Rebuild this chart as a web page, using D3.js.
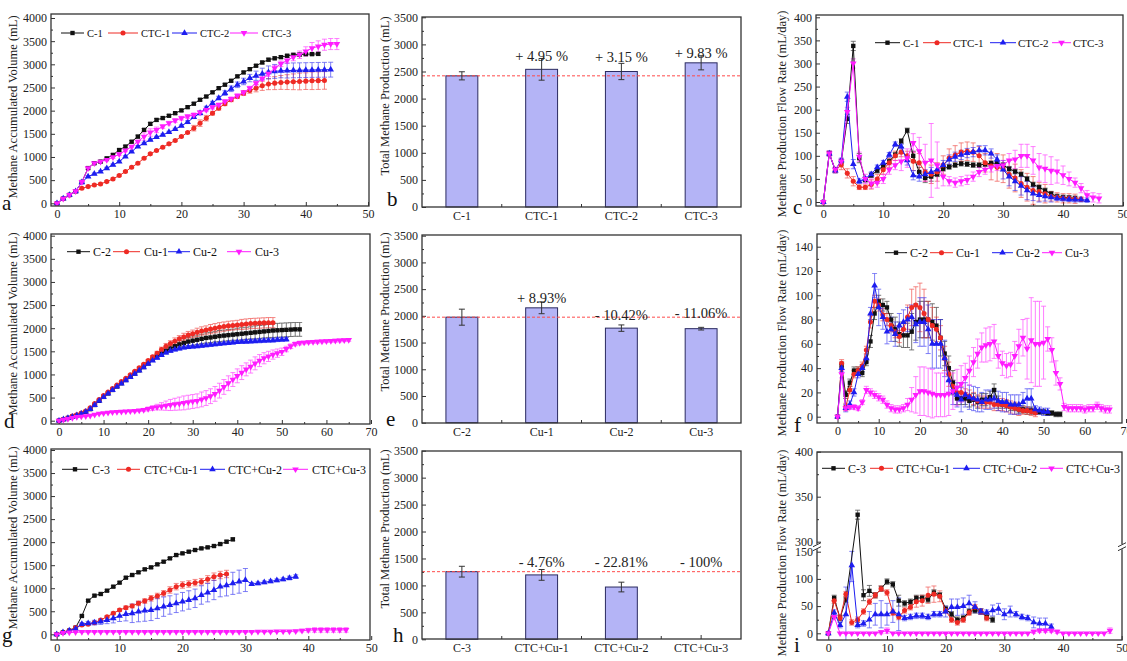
<!DOCTYPE html>
<html>
<head>
<meta charset="utf-8">
<script src="https://cdn.jsdelivr.net/npm/d3@7"></script>
<style>body{margin:0;background:#fff}</style>
</head>
<body>
<script>
// ---------- data: panel a (accumulated volume, CTC series) ----------
var aC1 = [0,100,180,260,460,760,865,900,970,1045,1150,1225,1330,1440,1585,1715,1800,1840,1890,1945,2005,2075,2150,2235,2305,2395,2485,2560,2645,2740,2825,2895,2970,3040,3100,3130,3155,3185,3205,3210,3220,3220,3225];
var aC1e = [0,10,10,10,20,25,25,25,25,25,25,25,25,30,30,30,30,25,25,25,25,25,25,25,25,25,25,25,25,25,25,25,25,30,30,30,30,30,30,30,30,30,30];
var aCTC1 = [0,100,180,260,324,360,396,418,468,526,598,685,778,865,973,1067,1139,1211,1283,1355,1441,1528,1622,1730,1838,1946,2054,2148,2234,2306,2378,2436,2486,2537,2573,2594,2609,2616,2623,2630,2637,2645,2648,2652];
var aCTC1e = [0,10,10,10,15,20,20,20,20,20,20,20,20,20,20,20,20,20,20,20,20,20,60,70,60,40,40,40,40,40,50,60,80,100,120,140,150,160,170,180,180,190,190,190];
var aCTC2 = [0,100,180,260,454,577,634,685,757,829,901,1009,1117,1225,1297,1369,1427,1477,1535,1600,1672,1751,1859,1946,2054,2162,2270,2378,2472,2558,2630,2703,2753,2796,2825,2847,2860,2865,2870,2872,2875,2878,2880,2882,2885];
var aCTC2e = [0,10,10,10,20,20,20,20,20,20,20,20,20,20,20,20,20,20,20,20,20,30,30,40,40,40,40,50,60,60,70,80,100,120,140,150,150,160,160,160,160,160,160,160,160];
var aCTC3 = [0,100,180,260,460,757,865,900,937,995,1059,1139,1225,1333,1441,1528,1585,1658,1730,1787,1838,1874,1910,1960,2018,2076,2126,2198,2256,2321,2393,2486,2594,2688,2796,2919,3012,3084,3157,3207,3279,3351,3387,3423,3438,3438];
var aCTC3e = [0,10,10,10,20,25,25,25,25,25,25,25,25,25,80,80,60,40,40,40,40,40,40,40,40,40,40,40,40,40,40,40,40,40,60,60,60,60,80,80,100,120,120,120,120,120];

// ---------- panel b (totals) ----------
var bCats = ["C-1","CTC-1","CTC-2","CTC-3"];
var bVals = [2420,2540,2500,2660];
var bErr = [75,200,150,130];
var bNotes = ["","+ 4.95 %","+ 3.15 %","+ 9.83 %"];

// ---------- panel c (flow rate, CTC series) ----------
var cC1 = [0,105,70,88,180,338,95,48,58,68,78,88,102,132,155,100,65,52,55,60,72,76,80,83,82,80,80,82,84,84,80,72,66,60,50,38,32,25,18,12,10,9,8];
var cC1e = [0,5,5,5,10,10,10,5,5,5,5,5,5,5,5,10,10,10,10,5,5,5,5,5,5,5,5,5,5,5,5,5,5,5,5,5,5,5,5,5,5,5,5];
var cCTC1 = [0,105,68,80,62,45,32,32,38,50,70,85,100,108,100,88,85,65,60,65,80,95,102,108,110,108,100,85,78,75,72,60,52,40,32,25,22,18,12,10,8,8,7,6];
var cCTC1e = [0,5,5,10,10,10,5,5,10,10,10,10,10,10,10,20,20,20,20,20,20,20,20,20,20,20,20,20,30,30,30,30,30,30,30,30,20,20,10,10,10,10,10,5];
var cCTC2 = [0,105,68,90,228,82,45,50,60,75,85,102,125,120,90,58,55,60,65,70,80,92,98,102,106,108,112,112,105,92,70,55,45,35,25,18,15,12,10,8,7,6,5,5,4];
var cCTC2e = [0,5,5,5,10,10,5,5,5,5,5,5,5,5,10,10,10,10,10,10,10,10,10,10,10,10,10,10,10,10,20,20,20,20,20,15,15,10,10,5,5,5,5,5,5];
var cCTC3 = [0,105,70,88,195,300,98,50,40,42,50,70,80,88,95,128,110,85,90,80,55,45,42,45,48,55,65,70,75,78,80,90,92,100,100,90,75,72,68,66,58,50,42,30,15,10,8];
var cCTC3e = [0,5,5,5,10,10,10,10,10,10,10,10,10,20,20,20,30,40,80,50,20,10,10,10,10,10,10,10,10,10,10,15,20,25,25,30,30,30,30,25,20,15,10,10,10,10,10];

// ---------- panel d (accumulated volume, Cu series) ----------
var dC2 = [0,30,60,90,120,150,190,250,340,430,515,590,665,740,810,880,950,1020,1090,1160,1240,1320,1390,1450,1510,1560,1610,1650,1680,1710,1730,1750,1770,1790,1800,1815,1830,1840,1850,1860,1870,1880,1890,1900,1910,1920,1930,1940,1950,1955,1960,1965,1970,1975,1975];
var dC2e = [0,10,10,10,10,10,10,10,10,10,10,10,10,10,10,10,10,10,20,20,20,30,40,50,60,70,80,80,90,90,100,100,100,110,110,110,120,120,120,120,130,130,130,130,140,140,140,140,150,150,150,150,150,150,150];
var dCu1 = [0,30,60,100,130,165,210,280,370,460,545,620,695,770,845,920,995,1070,1145,1220,1300,1380,1460,1540,1610,1670,1720,1770,1810,1850,1880,1910,1940,1960,1980,2000,2020,2035,2050,2060,2070,2080,2090,2100,2105,2110,2115,2120,2120];
var dCu1e = [0,10,10,10,10,10,10,10,10,10,10,10,10,10,10,10,10,10,20,20,20,30,40,50,60,60,70,70,80,80,80,90,90,90,100,100,100,100,100,100,100,110,110,110,110,110,110,110,110];
var dCu2 = [0,30,55,85,115,150,190,250,340,430,510,585,660,735,805,875,945,1015,1085,1155,1230,1300,1360,1420,1470,1510,1540,1560,1580,1590,1600,1610,1620,1630,1640,1650,1660,1670,1680,1690,1700,1705,1710,1715,1720,1725,1730,1735,1740,1750,1755,1760];
var dCu2e = [0,10,10,10,10,10,10,10,10,10,10,10,10,10,10,10,10,10,20,20,20,20,30,30,30,30,30,30,30,30,30,30,30,30,30,30,30,30,30,30,30,30,40,40,40,40,40,40,40,40,40,40];
var dCu3 = [0,20,40,60,80,90,100,110,130,150,165,175,185,190,195,200,205,210,220,235,255,275,295,310,325,340,355,370,385,400,415,430,460,490,530,580,650,730,810,890,970,1040,1110,1170,1240,1300,1350,1390,1430,1460,1490,1550,1610,1660,1680,1690,1700,1705,1710,1715,1720,1725,1730,1735,1740,1745];
var dCu3e = [0,10,10,10,10,10,10,10,10,10,10,10,10,10,10,10,10,20,20,30,40,50,60,80,100,120,130,140,150,150,150,150,160,160,160,160,160,160,160,150,150,150,140,140,140,130,120,110,100,90,80,60,50,40,40,30,30,30,30,30,30,30,30,30,30,30];

// ---------- panel e (totals) ----------
var eCats = ["C-2","Cu-1","Cu-2","Cu-3"];
var eVals = [1975,2150,1770,1760];
var eErr = [150,110,60,25];
var eNotes = ["","+ 8.93%","- 10.42%","- 11.06%"];

// ---------- panel f (flow rate, Cu series) ----------
var fC2 = [0,42,18,28,38,38,36,45,62,85,95,92,90,80,72,68,67,67,70,78,80,80,80,78,75,65,52,40,28,15,15,15,13,14,12,14,14,16,22,12,10,10,8,8,6,6,5,5,4,4,4,3,3,2,2];
var fC2e = [0,3,3,3,3,3,3,3,5,5,5,5,5,5,10,10,10,10,15,15,15,15,15,15,15,15,10,10,10,5,5,5,5,5,5,5,5,5,5,5,3,3,3,3,3,3,3,3,2,2,2,2,2,2,2];
var fCu1 = [0,44,8,22,35,38,42,55,78,95,92,84,80,75,70,66,72,82,90,92,90,85,80,75,72,65,48,35,25,20,20,18,17,15,13,12,12,12,10,10,10,9,8,7,6,5,5,4,3];
var fCu1e = [0,3,3,3,3,3,3,3,5,5,5,5,5,5,5,5,5,10,15,15,20,20,15,15,10,10,10,10,5,5,5,5,5,5,5,5,5,5,5,5,5,5,5,5,5,3,3,3,3];
var fCu2 = [0,40,7,10,20,35,40,48,85,108,90,82,70,72,68,75,78,80,82,76,78,78,72,60,60,60,48,30,20,18,14,18,16,15,14,12,14,14,15,13,12,12,10,10,10,12,15,15,6,5,4,4];
var fCu2e = [0,3,3,3,3,3,3,3,5,10,15,10,10,10,10,10,10,10,10,15,20,20,20,20,20,20,15,10,10,10,10,10,10,10,10,8,8,8,8,8,8,8,8,8,8,8,8,8,3,3,3,3];
var fCu3 = [0,35,7,8,8,7,12,22,20,18,16,14,10,7,6,6,7,10,14,18,21,21,20,19,18,18,18,19,21,24,27,32,38,45,52,57,59,60,62,50,44,42,43,50,58,65,56,63,60,60,61,64,55,36,27,8,7,7,7,7,6,7,7,9,7,6,6];
var fCu3e = [0,3,2,2,2,2,2,3,3,3,3,3,3,3,3,3,3,5,10,15,20,20,20,20,18,18,18,18,15,15,15,12,12,12,12,12,14,14,14,10,10,10,10,12,14,15,25,35,35,35,30,10,10,10,5,3,3,3,3,3,3,3,3,3,3,3,3];

// ---------- panel g (accumulated volume, CTC+Cu series) ----------
var gC3 = [0,43,80,145,398,730,839,875,947,1034,1121,1229,1287,1345,1410,1453,1518,1576,1648,1720,1757,1793,1829,1865,1887,1916,1959,2010,2061];
var gC3e = [0,10,10,10,20,20,20,20,20,20,20,20,20,20,20,20,20,20,20,20,20,20,20,20,20,20,20,30,30];
var gCu1 = [0,43,80,145,202,217,253,311,383,455,528,578,615,672,723,781,831,889,962,1034,1070,1092,1121,1142,1193,1251,1287,1309];
var gCu1e = [0,10,10,10,20,20,20,20,20,30,30,40,40,50,50,60,60,60,70,70,70,70,70,70,80,80,80,80];
var gCu2 = [0,43,80,120,224,239,253,275,311,347,398,441,455,492,513,528,564,600,636,672,708,745,781,853,904,962,1034,1063,1106,1142,1178,1092,1106,1128,1150,1171,1193,1222,1251];
var gCu2e = [0,10,10,10,30,40,50,60,80,100,120,150,200,220,230,230,220,210,200,200,200,200,200,200,200,210,220,230,240,250,250,30,30,30,30,30,30,40,40];
var gCu3 = [0,30,40,45,50,52,52,52,52,52,52,52,52,52,52,52,52,52,52,52,52,52,52,52,52,52,52,52,52,52,52,52,55,55,58,60,62,65,70,80,90,95,95,95,95,95,95];
var gCu3e = [0,5,5,5,5,5,5,5,5,5,5,5,5,5,5,5,5,5,5,5,5,5,5,5,5,5,5,5,5,5,5,5,5,5,10,10,10,10,20,30,40,50,50,50,50,50,50];

// ---------- panel h (totals) ----------
var hCats = ["C-3","CTC+Cu-1","CTC+Cu-2","CTC+Cu-3"];
var hVals = [1255,1195,970,0];
var hErr = [100,100,90,0];
var hNotes = ["","- 4.76%","- 22.81%","- 100%"];

// ---------- panel i (flow rate, CTC+Cu series) ----------
var iC3 = [0,65,28,62,null,330,70,78,70,82,95,90,60,55,58,65,65,62,75,70,45,35,25,28,40,42,40,30,25];
var iC3e = [0,5,5,5,0,5,10,10,5,5,5,5,10,5,5,5,5,5,5,5,5,5,5,5,5,5,5,5,5];
var iCu1 = [0,60,28,72,20,25,40,58,70,82,75,38,30,42,48,58,60,70,72,68,42,25,20,25,38,48,40,28];
var iCu1e = [0,5,5,5,5,5,5,5,5,5,5,5,5,5,5,10,10,15,15,10,5,5,5,5,5,5,5,5];
var iCu2 = [0,38,15,35,125,15,18,25,35,35,35,40,35,28,30,32,32,30,35,35,40,48,48,50,55,48,40,38,42,45,35,40,35,30,28,20,18,18,12];
var iCu2e = [0,5,5,50,30,5,5,15,20,25,20,20,30,5,5,5,5,5,5,5,10,15,15,15,15,10,5,5,10,10,10,10,5,5,5,10,10,10,5];
var iCu3 = [0,30,0,0,0,0,0,0,0,2,5,0,0,0,0,0,0,0,0,0,0,0,0,0,0,0,0,0,0,0,0,0,0,0,0,3,5,5,5,3,0,0,0,0,0,0,0,0,5];
var iCu3e = [0,3,0,0,0,0,0,0,0,3,5,0,0,0,0,0,0,0,0,0,0,0,0,0,0,0,0,0,0,0,0,0,0,0,0,3,3,3,3,3,0,0,0,0,0,0,0,0,5];

// ---------- drawing ----------
var FONT = "'Liberation Serif','Times New Roman',Times,serif";
var COL = { black: "#111111", red: "#ee2a24", blue: "#1d1df0", magenta: "#ff1cff" };

var svg = d3.select("body").append("svg")
  .attr("width", 1127)
  .attr("height", 661)
  .style("font-family", FONT);

var clipCount = 0;

function styleAxis(sel) {
  sel.select(".domain").remove();
  sel.selectAll(".tick line").attr("stroke", "#333").attr("stroke-width", 1);
  sel.selectAll(".tick text").attr("font-family", FONT).attr("font-size", 12).attr("fill", "#222");
}

function symbolFor(shape) {
  var type = { square: d3.symbolSquare, circle: d3.symbolCircle, up: d3.symbolTriangle, down: d3.symbolTriangle }[shape];
  return d3.symbol().type(type).size(shape === "circle" ? 20 : 19)();
}

function placeSymbol(shape, x, y) {
  return "translate(" + x + "," + y + ")" + (shape === "down" ? " rotate(180)" : "");
}

function frame(g, box) {
  g.append("rect")
    .attr("x", box[0]).attr("y", box[1])
    .attr("width", box[2] - box[0]).attr("height", box[3] - box[1])
    .attr("fill", "none").attr("stroke", "#333").attr("stroke-width", 1.3);
}

function sideText(g, p) {
  g.append("text")
    .attr("transform", "translate(" + p.title[0] + "," + p.title[1] + ") rotate(-90)")
    .attr("text-anchor", "middle").attr("dy", "0.35em")
    .attr("font-size", 12.5).attr("fill", "#222")
    .text(p.titleText);
  g.append("text")
    .attr("x", p.letter[0]).attr("y", p.letter[1])
    .attr("font-size", 21).attr("fill", "#111")
    .text(p.letterText);
}

function drawLinePanel(p, list) {
  var x = d3.scaleLinear().domain(p.xd).range(p.xr);
  var y = d3.scaleLinear().domain(p.yd).range(p.yr);
  var box = p.box;
  var g = svg.append("g");

  g.append("g").attr("transform", "translate(0," + box[3] + ")")
    .call(d3.axisBottom(x).tickValues(p.xt).tickSize(-4).tickPadding(3).tickFormat(d3.format("d")))
    .call(styleAxis);
  g.append("g").attr("transform", "translate(0," + box[3] + ")")
    .call(d3.axisBottom(x).tickValues(p.xm).tickSize(-2).tickFormat(""))
    .call(styleAxis);
  g.append("g").attr("transform", "translate(" + box[0] + ",0)")
    .call(d3.axisLeft(y).tickValues(p.yt).tickSize(-4).tickPadding(4).tickFormat(d3.format("d")))
    .call(styleAxis);
  g.append("g").attr("transform", "translate(" + box[0] + ",0)")
    .call(d3.axisLeft(y).tickValues(p.ym).tickSize(-2).tickFormat(""))
    .call(styleAxis);

  var id = "clip" + (clipCount++);
  svg.append("clipPath").attr("id", id).append("rect")
    .attr("x", box[0]).attr("y", box[1])
    .attr("width", box[2] - box[0]).attr("height", box[3] - box[1]);
  var plot = g.append("g").attr("clip-path", "url(#" + id + ")");

  var sets = list.map(function (s) {
    return s.vals.map(function (v, i) { return { d: i, v: v, e: s.errs[i] || 0 }; })
      .filter(function (q) { return q.v !== null; });
  });

  // error bars first
  list.forEach(function (s, k) {
    var eb = plot.append("g").attr("stroke", s.color).attr("stroke-width", 0.8).attr("opacity", 0.7);
    sets[k].filter(function (q) { return q.e > 0; }).forEach(function (q) {
      var cx = x(q.d), y1 = y(q.v + q.e), y2 = y(q.v - q.e);
      eb.append("line").attr("x1", cx).attr("x2", cx).attr("y1", y1).attr("y2", y2);
      eb.append("line").attr("x1", cx - 2.5).attr("x2", cx + 2.5).attr("y1", y1).attr("y2", y1);
      eb.append("line").attr("x1", cx - 2.5).attr("x2", cx + 2.5).attr("y1", y2).attr("y2", y2);
    });
  });

  var line = d3.line().x(function (q) { return x(q.d); }).y(function (q) { return y(q.v); });
  list.forEach(function (s, k) {
    plot.append("path").datum(sets[k])
      .attr("d", line).attr("fill", "none")
      .attr("stroke", s.color).attr("stroke-width", 1);
    plot.selectAll(null).data(sets[k]).enter().append("path")
      .attr("d", symbolFor(s.shape))
      .attr("transform", function (q) { return placeSymbol(s.shape, x(q.d), y(q.v)); })
      .attr("fill", s.color);
  });

  // legend
  list.forEach(function (s, k) {
    var it = p.legend.items[k], ly = p.legend.y;
    g.append("line").attr("x1", it[0]).attr("x2", it[1]).attr("y1", ly).attr("y2", ly)
      .attr("stroke", s.color).attr("stroke-width", 1);
    g.append("path").attr("d", symbolFor(s.shape))
      .attr("transform", placeSymbol(s.shape, (it[0] + it[1]) / 2, ly))
      .attr("fill", s.color);
    g.append("text").attr("x", it[2]).attr("y", ly).attr("dy", "0.35em")
      .attr("font-size", p.legend.fs).attr("fill", "#111").text(s.name);
  });

  frame(g, box);
  sideText(g, p);
  return { g: g, x: x, y: y };
}

function drawBarPanel(p, cats, vals, errs, notes) {
  var box = p.box;
  var x = d3.scaleBand().domain(cats).range([box[0], box[2]]).paddingInner(0.6).paddingOuter(0.3);
  var y = d3.scaleLinear().domain([0, 3500]).range(p.yr);
  var g = svg.append("g");

  g.append("g").attr("transform", "translate(0," + box[3] + ")")
    .call(d3.axisBottom(x).tickSize(-4).tickPadding(4))
    .call(styleAxis);
  var half = x.step() / 2;
  g.selectAll(null).data(cats.slice(1)).enter().append("line")
    .attr("x1", function (c) { return x(c) + x.bandwidth() / 2 - half; })
    .attr("x2", function (c) { return x(c) + x.bandwidth() / 2 - half; })
    .attr("y1", box[3]).attr("y2", box[3] - 3)
    .attr("stroke", "#333");
  g.append("g").attr("transform", "translate(" + box[0] + ",0)")
    .call(d3.axisLeft(y).tickValues(d3.range(0, 3501, 500)).tickSize(-4).tickPadding(4).tickFormat(d3.format("d")))
    .call(styleAxis);
  g.append("g").attr("transform", "translate(" + box[0] + ",0)")
    .call(d3.axisLeft(y).tickValues(d3.range(250, 3500, 500)).tickSize(-2).tickFormat(""))
    .call(styleAxis);

  g.selectAll(null).data(cats).enter().append("rect")
    .attr("x", function (c) { return x(c); })
    .attr("y", function (c, i) { return y(vals[i]); })
    .attr("width", x.bandwidth())
    .attr("height", function (c, i) { return y(0) - y(vals[i]); })
    .attr("fill", "#b4b4f6")
    .attr("stroke", function (c, i) { return vals[i] > 0 ? "#2a2a60" : "none"; })
    .attr("stroke-width", 1);

  // control reference line
  g.append("line")
    .attr("x1", box[0]).attr("x2", box[2])
    .attr("y1", y(vals[0])).attr("y2", y(vals[0]))
    .attr("stroke", "#ff4a4a").attr("stroke-width", 1).attr("stroke-dasharray", "3,2");

  cats.forEach(function (c, i) {
    if (errs[i] <= 0) return;
    var cx = x(c) + x.bandwidth() / 2, y1 = y(vals[i] + errs[i]), y2 = y(vals[i] - errs[i]);
    g.append("line").attr("x1", cx).attr("x2", cx).attr("y1", y1).attr("y2", y2).attr("stroke", "#333");
    g.append("line").attr("x1", cx - 3).attr("x2", cx + 3).attr("y1", y1).attr("y2", y1).attr("stroke", "#333");
    g.append("line").attr("x1", cx - 3).attr("x2", cx + 3).attr("y1", y2).attr("y2", y2).attr("stroke", "#333");
  });

  cats.forEach(function (c, i) {
    if (!notes[i]) return;
    var ny = p.noteY ? p.noteY : y(vals[i]) - p.noteOff[i];
    g.append("text")
      .attr("x", x(c) + x.bandwidth() / 2).attr("y", ny)
      .attr("text-anchor", "middle").attr("font-size", 14.5).attr("fill", "#222")
      .text(notes[i]);
  });

  frame(g, box);
  sideText(g, p);
}

var LEFT_TITLE = "Methane Accumulated Volume (mL)";
var MID_TITLE = "Total Methane Production (mL)";
var RIGHT_TITLE = "Methane Production Flow Rate (mL/day)";

function mk(name, vals, errs, color, shape) {
  return { name: name, vals: vals, errs: errs, color: color, shape: shape };
}

// a
drawLinePanel({
  box: [51, 14, 369, 206], xd: [0, 50], xr: [57, 368], yd: [0, 4000], yr: [203.3, 18],
  xt: d3.range(0, 51, 10), xm: d3.range(5, 50, 10), yt: d3.range(0, 4001, 500), ym: d3.range(250, 4000, 500),
  legend: { y: 33, fs: 10.5, items: [[61, 84, 87], [108, 138, 141], [172, 197, 200], [230, 258, 262]] },
  title: [13, 107], titleText: LEFT_TITLE, letter: [2, 210], letterText: "a"
}, [
  mk("C-1", aC1, aC1e, COL.black, "square"),
  mk("CTC-1", aCTC1, aCTC1e, COL.red, "circle"),
  mk("CTC-2", aCTC2, aCTC2e, COL.blue, "up"),
  mk("CTC-3", aCTC3, aCTC3e, COL.magenta, "down")
]);

// b
drawBarPanel({
  box: [422, 17, 741, 207], yr: [207, 17.3], noteOff: [0, 8, 10, 5],
  title: [385, 96], titleText: MID_TITLE, letter: [387, 206], letterText: "b"
}, bCats, bVals, bErr, bNotes);

// c
drawLinePanel({
  box: [816, 15, 1123, 206], xd: [0, 50], xr: [823.3, 1123], yd: [0, 400], yr: [202, 17.3],
  xt: d3.range(0, 51, 10), xm: d3.range(5, 50, 10), yt: d3.range(0, 401, 50), ym: d3.range(25, 400, 50),
  legend: { y: 42.7, fs: 11, items: [[875, 900, 903], [923, 951, 953], [990, 1016, 1018], [1052, 1071, 1073]] },
  title: [782, 114], titleText: RIGHT_TITLE, letter: [793, 214], letterText: "c"
}, [
  mk("C-1", cC1, cC1e, COL.black, "square"),
  mk("CTC-1", cCTC1, cCTC1e, COL.red, "circle"),
  mk("CTC-2", cCTC2, cCTC2e, COL.blue, "up"),
  mk("CTC-3", cCTC3, cCTC3e, COL.magenta, "down")
]);

// d
drawLinePanel({
  box: [51, 234, 370, 424], xd: [0, 70], xr: [59, 371], yd: [0, 4000], yr: [420.7, 235.7],
  xt: d3.range(0, 71, 10), xm: d3.range(5, 70, 10), yt: d3.range(0, 4001, 500), ym: d3.range(250, 4000, 500),
  legend: { y: 251.7, fs: 12, items: [[67, 90, 93], [113, 140, 144], [168, 190, 193], [227, 251, 255]] },
  title: [13, 324], titleText: LEFT_TITLE, letter: [4, 428], letterText: "d"
}, [
  mk("C-2", dC2, dC2e, COL.black, "square"),
  mk("Cu-1", dCu1, dCu1e, COL.red, "circle"),
  mk("Cu-2", dCu2, dCu2e, COL.blue, "up"),
  mk("Cu-3", dCu3, dCu3e, COL.magenta, "down")
]);

// e
drawBarPanel({
  box: [422, 235, 741, 423], yr: [422.7, 235.7], noteOff: [0, 5, 8, 11],
  title: [385, 312], titleText: MID_TITLE, letter: [386, 426], letterText: "e"
}, eCats, eVals, eErr, eNotes);

// f
drawLinePanel({
  box: [817, 234, 1122, 423], xd: [0, 70], xr: [837.5, 1126], yd: [0, 140], yr: [416.7, 246.7],
  xt: d3.range(0, 71, 10), xm: d3.range(5, 70, 10), yt: d3.range(0, 141, 20), ym: d3.range(10, 150, 20),
  legend: { y: 252.7, fs: 12, items: [[885, 907, 910], [930, 953, 956], [992, 1013, 1016], [1042, 1062, 1065]] },
  title: [782, 333], titleText: RIGHT_TITLE, letter: [794, 432], letterText: "f"
}, [
  mk("C-2", fC2, fC2e, COL.black, "square"),
  mk("Cu-1", fCu1, fCu1e, COL.red, "circle"),
  mk("Cu-2", fCu2, fCu2e, COL.blue, "up"),
  mk("Cu-3", fCu3, fCu3e, COL.magenta, "down")
]);

// g
drawLinePanel({
  box: [51, 449, 370, 640], xd: [0, 40], xr: [56.7, 308.3], yd: [0, 4000], yr: [634.3, 450],
  xt: d3.range(0, 51, 10), xm: d3.range(5, 50, 10), yt: d3.range(0, 4001, 500), ym: d3.range(250, 4000, 500),
  legend: { y: 469.3, fs: 12, items: [[62, 88, 92], [117, 140, 144], [200, 225, 228], [283, 308, 312]] },
  title: [13, 538], titleText: LEFT_TITLE, letter: [2, 642], letterText: "g"
}, [
  mk("C-3", gC3, gC3e, COL.black, "square"),
  mk("CTC+Cu-1", gCu1, gCu1e, COL.red, "circle"),
  mk("CTC+Cu-2", gCu2, gCu2e, COL.blue, "up"),
  mk("CTC+Cu-3", gCu3, gCu3e, COL.magenta, "down")
]);

// h
drawBarPanel({
  box: [422, 451, 741, 639], yr: [639.3, 450.7], noteY: 566.5,
  title: [385, 529], titleText: MID_TITLE, letter: [393, 642], letterText: "h"
}, hCats, hVals, hErr, hNotes);

// i (broken y axis: 0-150 below, 300-400 above)
var iPanel = {
  box: [817, 452, 1122, 640], xd: [0, 50], xr: [828.3, 1121.7], yd: [0, 150, 300, 400], yr: [633.3, 551.7, 541.7, 451.7],
  xt: d3.range(0, 51, 10), xm: d3.range(5, 50, 10), yt: [0, 50, 100, 150, 300, 350, 400], ym: [25, 75, 125, 325, 375],
  legend: { y: 468.3, fs: 12, items: [[822, 845, 848], [870, 893, 896], [953, 980, 983], [1040, 1063, 1066]] },
  title: [782, 553], titleText: RIGHT_TITLE, letter: [794, 652], letterText: "i"
};
var iRes = drawLinePanel(iPanel, [
  mk("C-3", iC3, iC3e, COL.black, "square"),
  mk("CTC+Cu-1", iCu1, iCu1e, COL.red, "circle"),
  mk("CTC+Cu-2", iCu2, iCu2e, COL.blue, "up"),
  mk("CTC+Cu-3", iCu3, iCu3e, COL.magenta, "down")
]);
// axis-break marks
[iPanel.box[0], iPanel.box[2]].forEach(function (bx) {
  var yb = iRes.y(225);
  iRes.g.append("rect").attr("x", bx - 3).attr("y", yb - 2.5).attr("width", 6).attr("height", 5).attr("fill", "#fff");
  [-2, 2].forEach(function (o) {
    iRes.g.append("line")
      .attr("x1", bx - 4).attr("x2", bx + 4)
      .attr("y1", yb + o + 2).attr("y2", yb + o - 2)
      .attr("stroke", "#333").attr("stroke-width", 1);
  });
});
</script>
</body>
</html>
